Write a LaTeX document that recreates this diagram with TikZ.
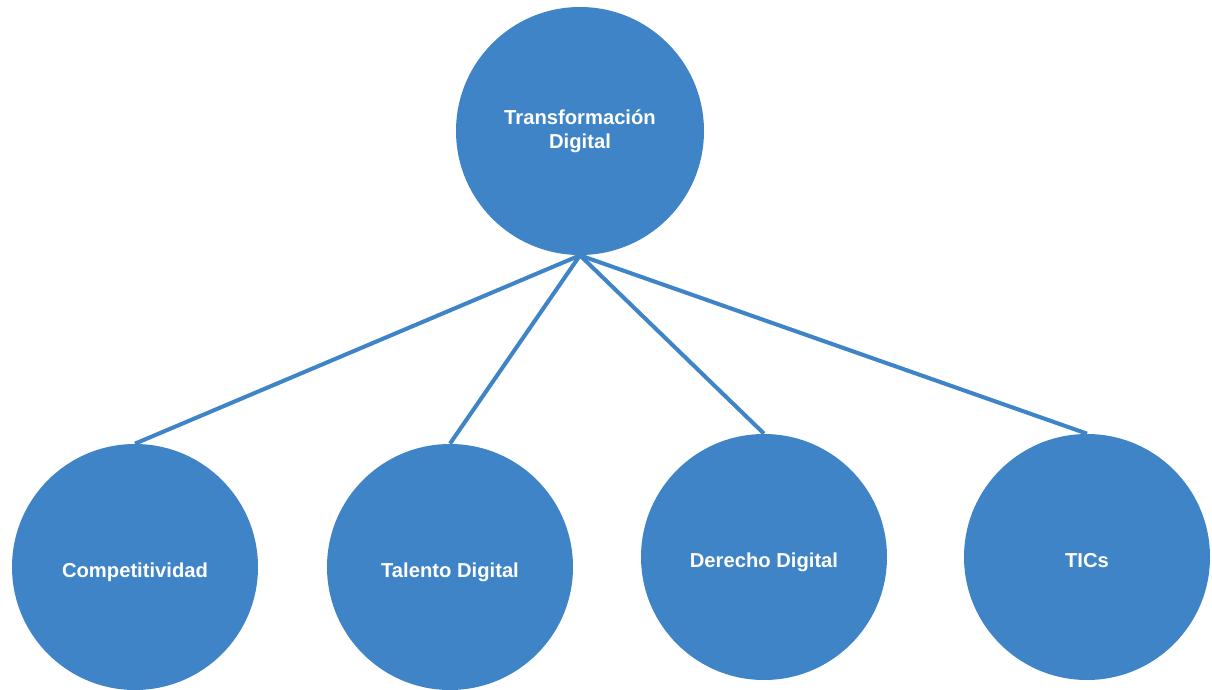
\documentclass[tikz,border=0pt]{standalone}
\usepackage{fontspec}
\setmainfont{Liberation Sans}
\usepackage{xcolor}
\definecolor{tdBlue}{RGB}{63,132,198}
\tikzset{
    % node style
    every node/.style = {font=\bfseries\fontsize{11.5}{13.8}\selectfont},
    % abstract base node style
    base/.style = {
        circle, fill=tdBlue, text=white,
        minimum size=4.96cm, inner sep=0pt,
        text centered
    },
    % special node styles (inherited from base style)
    rootTopic/.style = {base},
    subTopic/.style = {base, minimum size=4.92cm, text height=14pt, text depth=2.4pt},
    % connector style
    link/.style = {draw=tdBlue, line width=2.3pt}
}
\begin{document}
\begin{tikzpicture}[node distance=8.72cm, align=center]
        \useasboundingbox (0,0) rectangle (24.24,-13.8);
        % place the circles
        \node[rootTopic] (root) at (11.6,-2.62) {Transformación\\Digital};
        \node[subTopic] (comp) [below of=root, xshift=-8.9cm] {Competitividad};
        \node[subTopic] (talento) [below of=root, xshift=-2.6cm] {Talento Digital};
        \node[subTopic] (derecho) [below of=root, xshift=3.68cm, yshift=0.2cm] {Derecho Digital};
        \node[subTopic] (tics) [below of=root, xshift=10.14cm, yshift=0.2cm] {TICs};
        % draw straight connectors
        \path[link] (root.south) edge (comp.north)
                    (root.south) edge (talento.north)
                    (root.south) edge (derecho.north)
                    (root.south) edge (tics.north);
\end{tikzpicture}
\end{document}
